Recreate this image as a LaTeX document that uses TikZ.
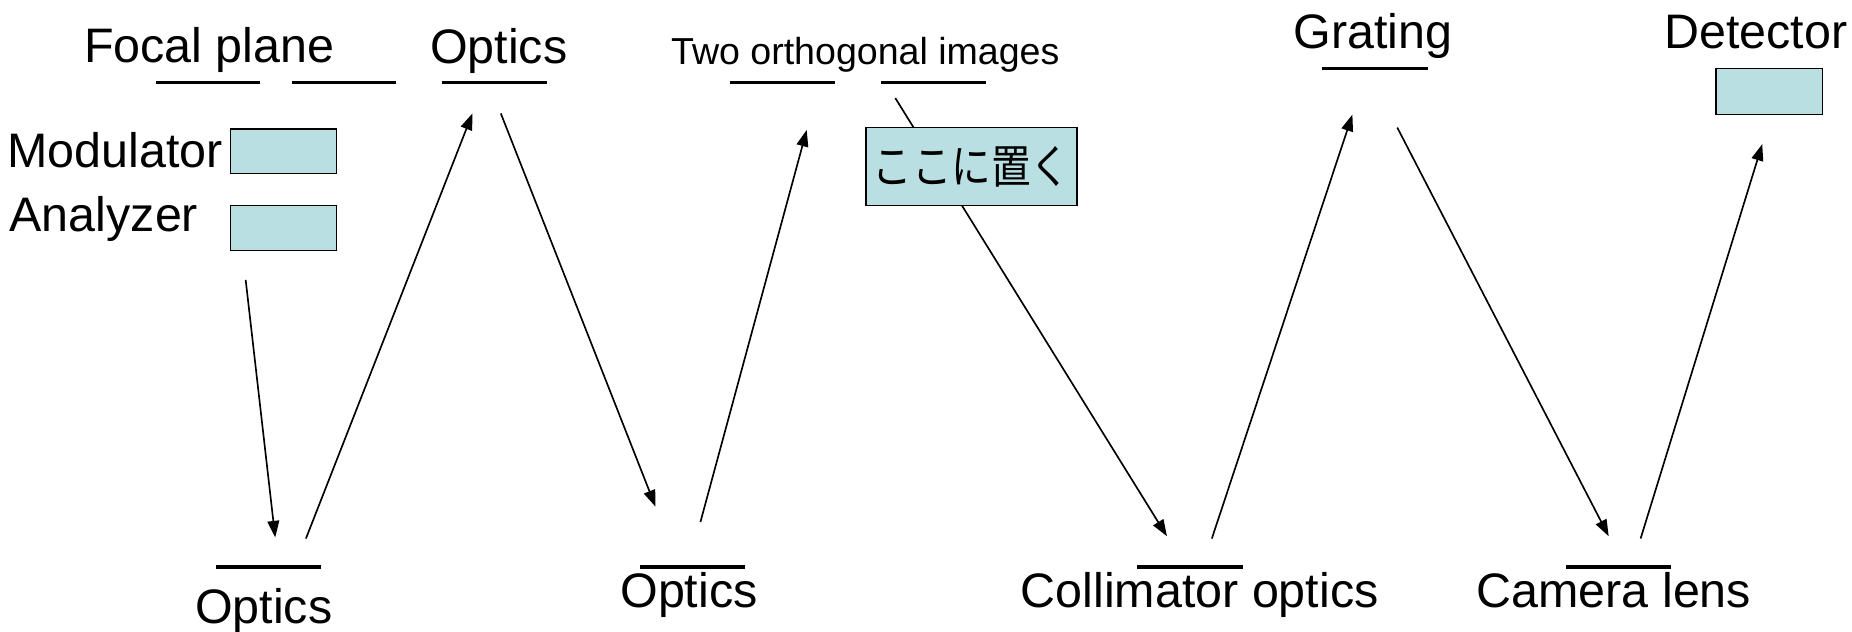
\documentclass[tikz,border=0pt]{standalone}
\usepackage{fontspec}
\setmainfont{Liberation Sans}
\newfontfamily\jpfont{Noto Sans CJK JP}
\usetikzlibrary{arrows.meta}
\definecolor{boxfill}{RGB}{185,223,227}
\begin{document}
\begin{tikzpicture}[x=1pt,y=-1pt,
  lbl/.style={anchor=base west,inner sep=0pt,font=\fontsize{41}{41}\selectfont},
  smalllbl/.style={anchor=base west,inner sep=0pt,font=\fontsize{31.8}{32}\selectfont},
  bar/.style={line width=3pt},
  ray/.style={line width=1.4pt,-{Triangle[length=14pt,width=10pt]}},
  elem/.style={draw,line width=1.3pt,fill=boxfill}]
\useasboundingbox (0,0) rectangle (1568,535);
% labels
\node[lbl] (focal) at (71,53) {Focal plane};
\node[lbl] (optT) at (364,54) {Optics};
\node[smalllbl] (two) at (568,55) {Two orthogonal images};
\node[lbl] (grating) at (1095,41) {Grating};
\node[lbl] (detector) at (1409,41) {Detector};
\node[lbl] (modulator) at (6,142) {Modulator};
\node[lbl] (analyzer) at (8,196) {Analyzer};
\node[lbl] (optB1) at (165,528) {Optics};
\node[lbl] (optB2) at (525,514) {Optics};
\node[lbl] (coll) at (864,514) {Collimator optics};
\node[lbl] (camera) at (1250,514) {Camera lens};
% bars (optical elements)
\coordinate (fp1a) at (132,70); \coordinate (fp1b) at (220,70);
\coordinate (fp2a) at (247,70); \coordinate (fp2b) at (335,70);
\coordinate (ot1a) at (374,70); \coordinate (ot1b) at (463,70);
\coordinate (im1a) at (618,70); \coordinate (im1b) at (707,70);
\coordinate (im2a) at (746,70); \coordinate (im2b) at (835,70);
\coordinate (gra) at (1119,58); \coordinate (grb) at (1209,58);
\coordinate (ob1a) at (183,480); \coordinate (ob1b) at (272,480);
\coordinate (ob2a) at (542,480); \coordinate (ob2b) at (631,480);
\coordinate (cla) at (963,480); \coordinate (clb) at (1052,480);
\coordinate (cma) at (1326,480); \coordinate (cmb) at (1415,480);
\foreach \a/\b in {fp1a/fp1b,fp2a/fp2b,ot1a/ot1b,im1a/im1b,im2a/im2b,gra/grb,ob1a/ob1b,ob2a/ob2b,cla/clb,cma/cmb}
  \draw[bar] (\a) -- (\b);
% ray coordinates
\coordinate (r1s) at (208,237); \coordinate (r1e) at (233,455);
\coordinate (r2s) at (259,456); \coordinate (r2e) at (400,96);
\coordinate (r3s) at (424,96);  \coordinate (r3e) at (555,429);
\coordinate (r4s) at (593,442); \coordinate (r4e) at (683,110);
\coordinate (r5s) at (758,83);  \coordinate (r5e) at (988,454);
\coordinate (r6s) at (1026,456); \coordinate (r6e) at (1145,97);
\coordinate (r7s) at (1183,108); \coordinate (r7e) at (1362,454);
\coordinate (r8s) at (1389,456); \coordinate (r8e) at (1492,122);
\foreach \s/\e in {r1s/r1e,r2s/r2e,r3s/r3e,r4s/r4e,r5s/r5e,r6s/r6e,r7s/r7e,r8s/r8e}
  \draw[ray] (\s) -- (\e);
% boxes
\draw[elem] (195,109) rectangle (285,147);
\draw[elem] (195,174) rectangle (285,212);
\draw[elem] (1453,58) rectangle (1543,97);
\node[elem,minimum width=179pt,minimum height=66pt,inner sep=0pt] (place) at (822.5,141)
  {\raisebox{-3pt}{\scalebox{0.86}[1]{\jpfont\fontsize{39}{39}\selectfont ここに置く}}};
\end{tikzpicture}
\end{document}
